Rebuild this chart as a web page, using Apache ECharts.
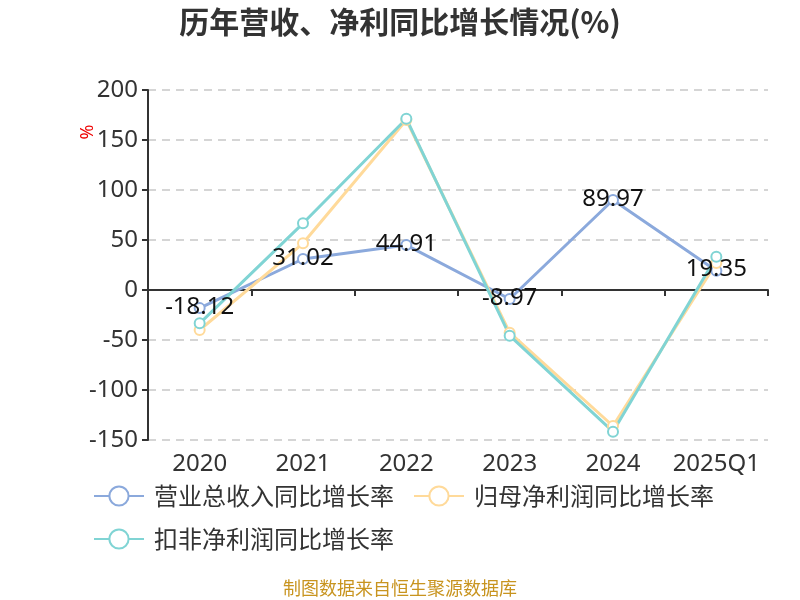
<!DOCTYPE html>
<html><head><meta charset="utf-8">
<script src="https://cdn.jsdelivr.net/npm/echarts@6/dist/echarts.min.js"></script>
<style>html,body{margin:0;padding:0;background:#fff}#c{width:800px;height:600px}</style>
</head><body><div id="c"></div>
<script>
const categories = ['2020','2021','2022','2023','2024','2025Q1'];
const revenueGrowth = [-18.12, 31.02, 44.91, -8.97, 89.97, 19.35];
const netProfitGrowth = [-40, 46.7, 170, -42.7, -136, 27];
const deductedProfitGrowth = [-33.3, 66.7, 171.3, -45.7, -141.7, 33.3];
const yTicks = {min: -150, max: 200, interval: 50};
const seriesNames = ['营业总收入同比增长率','归母净利润同比增长率','扣非净利润同比增长率'];

const font = '"Noto Sans CJK SC","Noto Sans",sans-serif';
const numFont = '"Noto Sans","Noto Sans CJK SC",sans-serif';
const chart = echarts.init(document.getElementById('c'));
chart.setOption({
  animation: false,
  title: {text: '历年营收、净利同比增长情况(%)', left: 'center', top: 2,
    textStyle: {fontSize: 30, fontWeight: 'bold', color: '#333', fontFamily: font}},
  grid: {left: 148, right: 32, top: 90, bottom: 160, containLabel: false},
  legend: {left: 88, top: 479, width: 700, itemWidth: 50, itemHeight: 24, itemGap: 19,
    textStyle: {fontSize: 24, color: '#333', fontFamily: font, padding: [0, 9, 0, 5]}, data: seriesNames},
  xAxis: [
    {type: 'category', data: categories, boundaryGap: true,
     axisLine: {onZero: true, lineStyle: {color: '#333', width: 2}},
     axisTick: {show: true, lineStyle: {color: '#333', width: 2}, length: 6},
     axisLabel: {show: false}, splitLine: {show: false}},
    {type: 'category', data: categories, position: 'bottom', boundaryGap: true,
     axisLine: {show: false}, axisTick: {show: false},
     axisLabel: {interval: 0, fontSize: 24, color: '#333', margin: 12, fontFamily: numFont}}
  ],
  yAxis: {type: 'value', min: yTicks.min, max: yTicks.max, interval: yTicks.interval,
    axisLine: {show: true, lineStyle: {color: '#333', width: 2}},
    axisTick: {show: true, length: 6, lineStyle: {color: '#333', width: 2}},
    axisLabel: {fontSize: 24, color: '#333', margin: 10, fontFamily: numFont},
    splitLine: {lineStyle: {type: [8, 6], color: '#c8c8c8', width: 1.5}}},
  series: [
    {name: seriesNames[0], type: 'line', data: revenueGrowth, xAxisIndex: 0,
     symbol: 'emptyCircle', symbolSize: 10, lineStyle: {width: 3, color: '#8BA9DC'},
     itemStyle: {color: '#8BA9DC', borderWidth: 2},
     label: {show: true, position: 'top', offset: [0, 22], fontSize: 24, color: '#111', fontFamily: numFont}},
    {name: seriesNames[1], type: 'line', data: netProfitGrowth, xAxisIndex: 0,
     symbol: 'emptyCircle', symbolSize: 10, lineStyle: {width: 3, color: '#FFDA9A'},
     itemStyle: {color: '#FFDA9A', borderWidth: 2}},
    {name: seriesNames[2], type: 'line', data: deductedProfitGrowth, xAxisIndex: 0,
     symbol: 'emptyCircle', symbolSize: 10, lineStyle: {width: 3, color: '#80D4D4'},
     itemStyle: {color: '#80D4D4', borderWidth: 2}}
  ],
  graphic: [
    {type: 'text', x: 88, y: 132, rotation: Math.PI / 2, originX: 0, originY: 0,
     style: {text: '%', fill: '#e00', fontSize: 18, fontFamily: numFont, align: 'center', verticalAlign: 'middle'}},
    {type: 'text', left: 'center', top: 579,
     style: {text: '制图数据来自恒生聚源数据库', fill: '#C8941F', fontSize: 18, fontFamily: font}}]
});
</script></body></html>
